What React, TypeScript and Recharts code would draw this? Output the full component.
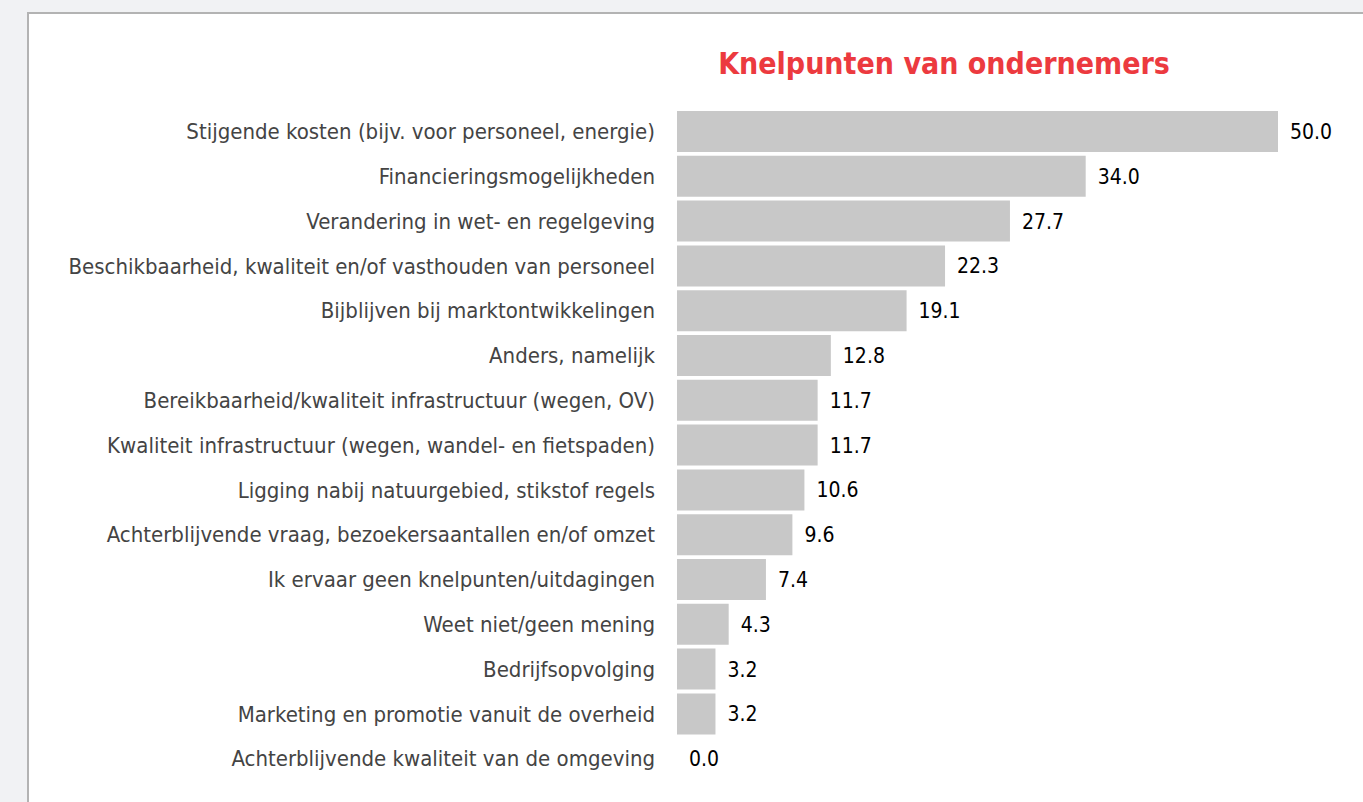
import { Bar, BarChart, LabelList, XAxis, YAxis } from "recharts";

const categories = [
  "Stijgende kosten (bijv. voor personeel, energie)",
  "Financieringsmogelijkheden",
  "Verandering in wet- en regelgeving",
  "Beschikbaarheid, kwaliteit en/of vasthouden van personeel",
  "Bijblijven bij marktontwikkelingen",
  "Anders, namelijk",
  "Bereikbaarheid/kwaliteit infrastructuur (wegen, OV)",
  "Kwaliteit infrastructuur (wegen, wandel- en fietspaden)",
  "Ligging nabij natuurgebied, stikstof regels",
  "Achterblijvende vraag, bezoekersaantallen en/of omzet",
  "Ik ervaar geen knelpunten/uitdagingen",
  "Weet niet/geen mening",
  "Bedrijfsopvolging",
  "Marketing en promotie vanuit de overheid",
  "Achterblijvende kwaliteit van de omgeving",
];

const values = [50.0, 34.0, 27.7, 22.3, 19.1, 12.8, 11.7, 11.7, 10.6, 9.6, 7.4, 4.3, 3.2, 3.2, 0.0];

const data = categories.map((name, i) => ({ name, value: values[i] }));

const FONT = '"Liberation Sans Narrow", "DejaVu Sans Condensed", "Roboto Condensed", "Noto Sans", sans-serif';

export default function App() {
  return (
    <div
      style={{
        position: "fixed",
        left: 0,
        top: 0,
        width: 1363,
        height: 802,
        background: "#f1f2f4",
        overflow: "hidden",
      }}
    >
      <div
        style={{
          position: "absolute",
          left: 27,
          top: 12,
          width: 1400,
          height: 900,
          background: "#fff",
          borderLeft: "2px solid #b3b3b3",
          borderTop: "2px solid #b3b3b3",
        }}
      />
      <div
        style={{
          position: "absolute",
          left: 644,
          width: 600,
          top: 46,
          textAlign: "center",
          whiteSpace: "nowrap",
          fontFamily: FONT,
          fontWeight: 700,
          fontSize: 30,
          color: "#ec3a3f",
        }}
      >
        Knelpunten van ondernemers
      </div>
      <div style={{ position: "absolute", left: 0, top: 0 }}>
        <BarChart
          width={1363}
          height={802}
          data={data}
          layout="vertical"
          margin={{ top: 109, right: 85, bottom: 21, left: 0 }}
          barCategoryGap={2}
        >
          <XAxis type="number" domain={[0, 50]} hide />
          <YAxis
            type="category"
            dataKey="name"
            width={677}
            axisLine={false}
            tickLine={false}
            tickSize={0}
            tickMargin={22}
            interval={0}
            tick={{ fill: "#444", fontSize: 22, fontFamily: FONT }}
          />
          <Bar dataKey="value" fill="#c8c8c8" minPointSize={0.01} isAnimationActive={false}>
            <LabelList
              dataKey="value"
              position="right"
              offset={12}
              formatter={(v: number) => Number(v).toFixed(1)}
              style={{ fill: "#000", fontSize: 21, fontFamily: FONT }}
            />
          </Bar>
        </BarChart>
      </div>
    </div>
  );
}
